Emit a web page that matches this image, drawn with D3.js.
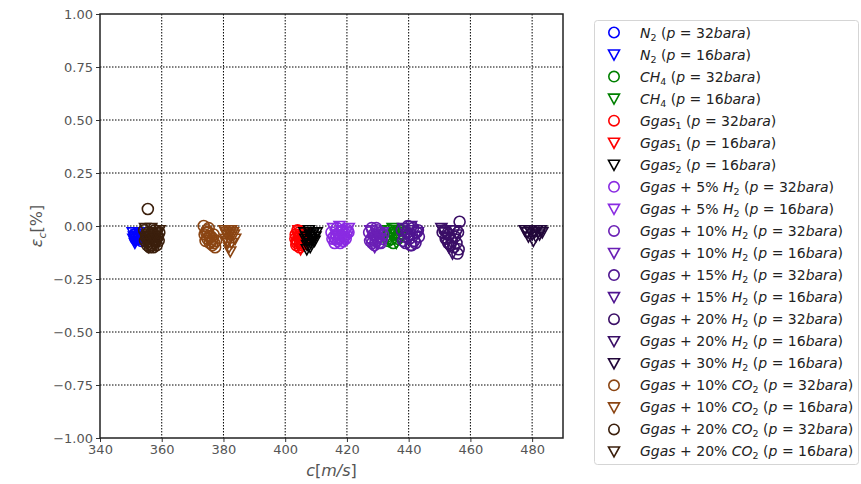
<!DOCTYPE html>
<html><head><meta charset="utf-8">
<script src="https://cdn.jsdelivr.net/npm/d3@7"></script>
<style>body{margin:0;background:#fff}svg{display:block}</style>
</head><body>
<svg id="chart" width="861" height="484"></svg>
<script>
// ---- data ----
const xTicks = [340,360,380,400,420,440,460,480];
const yTicks = [-1.00,-0.75,-0.50,-0.25,0.00,0.25,0.50,0.75,1.00];

const n2_32_c = [351.2,351.8,352.3,352.9,353.4,351.5,352.6,353.1];
const n2_32_e = [-0.04,-0.05,-0.06,-0.05,-0.07,-0.06,-0.04,-0.06];
const n2_16_c = [350.6,351.0,351.4,351.9,352.4,350.8,351.3,352.0,352.7,353.3];
const n2_16_e = [-0.03,-0.05,-0.07,-0.04,-0.06,-0.06,-0.08,-0.05,-0.03,-0.05];
const ch4_32_c = [432.2,433.0,433.8,434.5,435.3,436.1,436.9,437.6,433.4,435.0,436.5];
const ch4_32_e = [-0.03,-0.05,-0.02,-0.06,-0.04,-0.03,-0.05,-0.02,-0.07,-0.08,-0.06];
const ch4_16_c = [432.8,433.6,434.4,435.2,436.0,436.8,437.7,438.5,434.8];
const ch4_16_e = [-0.02,-0.07,-0.04,-0.03,-0.08,-0.02,-0.05,-0.03,-0.01];
const ggas1_32_c = [403.4,403.9,404.3,404.8,405.2,405.7,403.6,404.5,403.3,404.0,404.7,405.4,406.0,403.8,404.9];
const ggas1_32_e = [-0.04,-0.07,-0.05,-0.08,-0.06,-0.04,-0.09,-0.03,-0.06,-0.02,-0.10,-0.09,-0.07,-0.08,-0.05];
const ggas1_16_c = [404.0,404.6,405.1,405.6,406.2,406.6,404.3,405.0,405.8];
const ggas1_16_e = [-0.05,-0.08,-0.04,-0.09,-0.06,-0.03,-0.02,-0.11,-0.07];
const ggas2_16_c = [406.2,406.8,407.4,408.0,408.6,409.2,409.8,407.1,408.3,406.5,407.7,408.9,409.5,410.2,407.0,408.1];
const ggas2_16_e = [-0.03,-0.05,-0.07,-0.04,-0.06,-0.03,-0.05,-0.09,-0.08,-0.06,-0.02,-0.04,-0.07,-0.03,-0.11,-0.10];
const h5_32_c = [415.0,415.8,416.6,417.4,418.2,419.0,419.8,420.5,416.2,418.6,415.3,416.0,417.0,417.8,418.8,419.6,420.2,416.8];
const h5_32_e = [-0.03,-0.05,-0.04,-0.06,-0.03,-0.05,-0.04,-0.03,-0.06,-0.02,-0.06,-0.08,-0.07,-0.08,-0.07,-0.06,-0.02,-0.01];
const h5_16_c = [415.5,416.4,417.3,418.1,419.0,419.9,420.6,417.6,419.4];
const h5_16_e = [-0.01,-0.04,-0.06,-0.02,-0.05,-0.03,-0.01,0.00,-0.07];
const h10_32_c = [427.2,427.9,428.6,429.3,430.0,430.7,431.4,428.2,429.8,427.5,428.9,430.3,431.7,428.0,429.5,431.0];
const h10_32_e = [-0.03,-0.06,-0.04,-0.07,-0.05,-0.03,-0.06,-0.08,-0.02,-0.07,-0.09,-0.08,-0.04,-0.01,-0.01,-0.08];
const h10_16_c = [427.6,428.4,429.2,430.0,430.8,431.6,429.0];
const h10_16_e = [-0.02,-0.05,-0.07,-0.04,-0.06,-0.03,-0.10];
const h15_32_c = [437.8,438.6,439.4,440.2,441.0,441.8,442.6,443.3,439.0,441.4,438.2,440.6,442.2,443.0,439.8,441.0];
const h15_32_e = [-0.02,-0.05,-0.03,-0.06,-0.04,-0.07,-0.03,-0.05,-0.08,-0.01,-0.07,-0.09,-0.08,-0.02,0.00,-0.09];
const h15_16_c = [438.2,439.2,440.2,441.2,442.2,443.0,440.8];
const h15_16_e = [-0.01,-0.04,-0.06,-0.02,-0.05,-0.03,0.00];
const h20_32_c = [451.0,452.0,453.0,454.0,455.0,456.0,456.5,455.5,456.2,453.5,455.8,454.6,451.6,452.8];
const h20_32_e = [-0.03,-0.06,-0.04,-0.07,-0.05,-0.03,0.02,-0.08,-0.11,-0.09,-0.13,-0.10,-0.02,-0.08];
const h20_16_c = [450.6,451.6,452.6,453.6,454.6,455.6,452.2,454.2,451.0,453.0,455.0];
const h20_16_e = [-0.01,-0.03,-0.05,-0.02,-0.06,-0.04,-0.08,-0.13,-0.02,-0.10,-0.02];
const h30_16_c = [477.6,478.4,479.2,480.0,480.8,481.6,482.4,483.3,480.4,478.8,481.2,482.8];
const h30_16_e = [-0.02,-0.03,-0.02,-0.04,-0.03,-0.02,-0.04,-0.03,-0.07,-0.05,-0.05,-0.02];
const co2_10_32_c = [373.6,374.4,375.2,376.0,376.8,377.6,374.8,376.4,375.6,373.9,374.6,375.4,376.2,377.0,377.3,375.0,376.6,374.2];
const co2_10_32_e = [0.00,-0.03,-0.01,-0.05,-0.04,-0.07,-0.06,-0.09,-0.08,-0.04,-0.02,-0.05,-0.07,-0.08,-0.10,-0.03,-0.06,-0.07];
const co2_10_16_c = [380.3,381.0,381.7,382.4,383.1,383.8,381.4,382.2,380.6,381.3,382.0,382.7,383.4,381.8,382.5,380.9];
const co2_10_16_e = [-0.02,-0.04,-0.02,-0.05,-0.03,-0.06,-0.08,-0.12,-0.06,-0.07,-0.04,-0.08,-0.04,-0.10,-0.02,-0.03];
const co2_20_32_c = [354.3,355.0,355.7,356.4,357.1,357.8,358.5,359.2,355.5,356.8,358.2,354.6,355.3,356.1,356.9,357.6,358.4,359.0,354.9,355.9,357.3,358.8];
const co2_20_32_e = [-0.02,-0.05,-0.03,-0.06,-0.04,-0.02,-0.05,-0.03,0.08,-0.09,-0.07,-0.07,-0.09,-0.10,-0.08,-0.06,-0.09,-0.07,-0.04,-0.07,-0.10,-0.05];
const co2_20_16_c = [354.6,355.4,356.2,357.0,357.8,358.6,359.3,355.8,357.4,354.9,356.6,358.1,359.0,355.2,356.9,358.4];
const co2_20_16_e = [-0.01,-0.04,-0.06,-0.03,-0.07,-0.04,-0.02,-0.10,-0.09,-0.08,-0.01,-0.09,-0.06,-0.06,-0.05,-0.03];

// label parts: [text, style]  style: i=italic, n=normal, s=subscript
const pr32 = [[" (","n"],["p","i"],[" = 32","n"],["bara","i"],[")","n"]];
const pr16 = [[" (","n"],["p","i"],[" = 16","n"],["bara","i"],[")","n"]];
const series = [
  {c:n2_32_c, e:n2_32_e, m:"o", col:"#0000ff", lab:[["N","i"],["2","s"],...pr32]},
  {c:n2_16_c, e:n2_16_e, m:"v", col:"#0000ff", lab:[["N","i"],["2","s"],...pr16]},
  {c:ch4_32_c, e:ch4_32_e, m:"o", col:"#008000", lab:[["CH","i"],["4","s"],...pr32]},
  {c:ch4_16_c, e:ch4_16_e, m:"v", col:"#008000", lab:[["CH","i"],["4","s"],...pr16]},
  {c:ggas1_32_c, e:ggas1_32_e, m:"o", col:"#ff0000", lab:[["Ggas","i"],["1","s"],...pr32]},
  {c:ggas1_16_c, e:ggas1_16_e, m:"v", col:"#ff0000", lab:[["Ggas","i"],["1","s"],...pr16]},
  {c:ggas2_16_c, e:ggas2_16_e, m:"v", col:"#000000", lab:[["Ggas","i"],["2","s"],...pr16]},
  {c:h5_32_c, e:h5_32_e, m:"o", col:"#8a2be2", lab:[["Ggas","i"],[" + 5% ","n"],["H","i"],["2","s"],...pr32]},
  {c:h5_16_c, e:h5_16_e, m:"v", col:"#8a2be2", lab:[["Ggas","i"],[" + 5% ","n"],["H","i"],["2","s"],...pr16]},
  {c:h10_32_c, e:h10_32_e, m:"o", col:"#6a1fb5", lab:[["Ggas","i"],[" + 10% ","n"],["H","i"],["2","s"],...pr32]},
  {c:h10_16_c, e:h10_16_e, m:"v", col:"#6a1fb5", lab:[["Ggas","i"],[" + 10% ","n"],["H","i"],["2","s"],...pr16]},
  {c:h15_32_c, e:h15_32_e, m:"o", col:"#4f1590", lab:[["Ggas","i"],[" + 15% ","n"],["H","i"],["2","s"],...pr32]},
  {c:h15_16_c, e:h15_16_e, m:"v", col:"#4f1590", lab:[["Ggas","i"],[" + 15% ","n"],["H","i"],["2","s"],...pr16]},
  {c:h20_32_c, e:h20_32_e, m:"o", col:"#3a0e66", lab:[["Ggas","i"],[" + 20% ","n"],["H","i"],["2","s"],...pr32]},
  {c:h20_16_c, e:h20_16_e, m:"v", col:"#3a0e66", lab:[["Ggas","i"],[" + 20% ","n"],["H","i"],["2","s"],...pr16]},
  {c:h30_16_c, e:h30_16_e, m:"v", col:"#22073a", lab:[["Ggas","i"],[" + 30% ","n"],["H","i"],["2","s"],...pr16]},
  {c:co2_10_32_c, e:co2_10_32_e, m:"o", col:"#8b4513", lab:[["Ggas","i"],[" + 10% ","n"],["CO","i"],["2","s"],...pr32]},
  {c:co2_10_16_c, e:co2_10_16_e, m:"v", col:"#8b4513", lab:[["Ggas","i"],[" + 10% ","n"],["CO","i"],["2","s"],...pr16]},
  {c:co2_20_32_c, e:co2_20_32_e, m:"o", col:"#3b1f0c", lab:[["Ggas","i"],[" + 20% ","n"],["CO","i"],["2","s"],...pr32]},
  {c:co2_20_16_c, e:co2_20_16_e, m:"v", col:"#3b1f0c", lab:[["Ggas","i"],[" + 20% ","n"],["CO","i"],["2","s"],...pr16]}
];

// ---- drawing ----
const svg = d3.select("#chart");
const FONT = "DejaVu Sans, sans-serif";
const L=100, R=563, T=14, B=438;
const x = d3.scaleLinear().domain([340,490]).range([L,R]);
const y = d3.scaleLinear().domain([-1,1]).range([B,T]);

// grid
const g = svg.append("g");
g.selectAll(".gx").data(xTicks.slice(1)).enter().append("line")
  .attr("x1",d=>x(d)).attr("x2",d=>x(d)).attr("y1",T).attr("y2",B)
  .attr("stroke","#000").attr("stroke-width",1).attr("stroke-dasharray","1.5,1.5");
g.selectAll(".gy").data(yTicks.slice(1,-1)).enter().append("line")
  .attr("x1",L).attr("x2",R).attr("y1",d=>y(d)).attr("y2",d=>y(d))
  .attr("stroke","#000").attr("stroke-width",1).attr("stroke-dasharray","1.5,1.5");

// axes
const xAxis = svg.append("g").attr("transform",`translate(0,${B})`)
  .call(d3.axisBottom(x).tickValues(xTicks).tickSize(4).tickPadding(3).tickFormat(d3.format("d")));
const yAxis = svg.append("g").attr("transform",`translate(${L},0)`)
  .call(d3.axisLeft(y).tickValues(yTicks).tickSize(4).tickPadding(3)
    .tickFormat(d=>d3.format(".2f")(d).replace("-","\u2212")));
[xAxis,yAxis].forEach(a=>{
  a.select(".domain").remove();
  a.selectAll("text").attr("font-family",FONT).attr("font-size",13).attr("fill","#555");
  a.selectAll("line").attr("stroke","#333");
});

// markers
const tri = "M-5.5,-4.5L5.5,-4.5L0,5.5Z";
const marks = svg.append("g");
series.forEach(s=>{
  const pts = s.c.map((c,i)=>[c,s.e[i]]);
  if (s.m==="o") {
    marks.append("g").selectAll("circle").data(pts).enter().append("circle")
      .attr("cx",d=>x(d[0])).attr("cy",d=>y(d[1])).attr("r",5.5)
      .attr("fill","none").attr("stroke",s.col).attr("stroke-width",1.6);
  } else {
    marks.append("g").selectAll("path").data(pts).enter().append("path")
      .attr("d",tri).attr("transform",d=>`translate(${x(d[0])},${y(d[1])})`)
      .attr("fill","none").attr("stroke",s.col).attr("stroke-width",1.6);
  }
});

// frame
svg.append("rect").attr("x",L).attr("y",T).attr("width",R-L).attr("height",B-T)
  .attr("fill","none").attr("stroke","#222").attr("stroke-width",1.5);

// axis labels
const xl = svg.append("text").attr("x",(L+R)/2).attr("y",476).attr("text-anchor","middle")
  .attr("font-family",FONT).attr("font-size",16).attr("fill","#555");
xl.append("tspan").attr("font-style","italic").text("c");
xl.append("tspan").text("[");
xl.append("tspan").attr("font-style","italic").text("m/s");
xl.append("tspan").text("]");

const yl = svg.append("text").attr("transform",`translate(42,${(T+B)/2}) rotate(-90)`)
  .attr("text-anchor","middle").attr("font-family",FONT).attr("font-size",16).attr("fill","#555");
yl.append("tspan").attr("font-style","italic").text("\u03b5");
yl.append("tspan").attr("font-style","italic").attr("font-size",11).attr("dy",4).text("c");
yl.append("tspan").attr("dy",-4).text("[%]");

// legend
const lg = svg.append("g");
lg.append("rect").attr("x",594.5).attr("y",20.5).attr("width",264).attr("height",444).attr("rx",3)
  .attr("fill","#fff").attr("stroke","#d5d5d5").attr("stroke-width",1);
const ly0 = 32.5, lstep = 22.05;
series.forEach((s,i)=>{
  const yy = ly0 + i*lstep;
  if (s.m==="o") {
    lg.append("circle").attr("cx",614).attr("cy",yy).attr("r",5.2)
      .attr("fill","none").attr("stroke",s.col).attr("stroke-width",1.6);
  } else {
    lg.append("path").attr("d",tri).attr("transform",`translate(614,${yy})`)
      .attr("fill","none").attr("stroke",s.col).attr("stroke-width",1.6);
  }
  const t = lg.append("text").attr("x",640).attr("y",yy+5)
    .attr("font-family",FONT).attr("font-size",14).attr("fill","#222")
    .attr("xml:space","preserve");
  let sub = false;
  s.lab.forEach(([txt,st])=>{
    const ts = t.append("tspan").text(txt);
    if (st==="i") ts.attr("font-style","italic");
    if (st==="s") { ts.attr("font-size",9.5).attr("dy",3); sub = true; }
    else if (sub) { ts.attr("dy",-3); sub = false; }
  });
});
</script>
</body></html>
